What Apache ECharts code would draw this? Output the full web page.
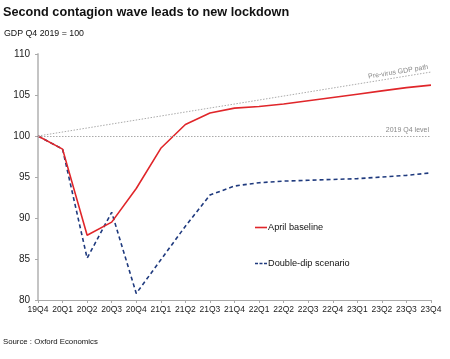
<!DOCTYPE html>
<html><head><meta charset="utf-8">
<script src="https://cdn.jsdelivr.net/npm/echarts@6/dist/echarts.min.js"></script>
<style>html,body{margin:0;padding:0;background:#fff}#c{width:450px;height:359px}</style>
</head><body><div id="c"></div>
<script>
const categories = ['19Q4','20Q1','20Q2','20Q3','20Q4','21Q1','21Q2','21Q3','21Q4','22Q1','22Q2','22Q3','22Q4','23Q1','23Q2','23Q3','23Q4'];
const aprilBaseline = [100, 98.4, 87.9, 89.5, 93.6, 98.5, 101.4, 102.8, 103.4, 103.6, 103.9, 104.3, 104.7, 105.1, 105.5, 105.9, 106.2];
const doubleDip = [100, 98.4, 85.1, 90.7, 80.8, 84.9, 89.0, 92.8, 93.9, 94.3, 94.5, 94.6, 94.7, 94.8, 95.0, 95.2, 95.5];
const preVirusStart = 100, preVirusEnd = 107.8;
const level2019 = 100;
const yTicks = [80, 85, 90, 95, 100, 105, 110];

const chart = echarts.init(document.getElementById('c'));
const font = 'Liberation Sans, Arial, sans-serif';
chart.setOption({
  animation: false,
  textStyle: { fontFamily: font },
  title: [
    { text: 'Second contagion wave leads to new lockdown', left: 3, top: 6, padding: 0,
      textStyle: { fontSize: 12.7, fontWeight: 'bold', color: '#111', fontFamily: font } },
    { text: 'GDP Q4 2019 = 100', left: 4, top: 29, padding: 0,
      textStyle: { fontSize: 8.8, fontWeight: 'normal', color: '#111', fontFamily: font } },
    { text: 'Source : Oxford Economics', left: 3, top: 338, padding: 0,
      textStyle: { fontSize: 7.8, fontWeight: 'normal', color: '#111', fontFamily: font } }
  ],
  grid: { left: 38, right: 19, top: 54, bottom: 59, containLabel: false },
  legend: {
    left: 250, top: 218, orient: 'vertical', itemGap: 27, itemWidth: 12, itemHeight: 8,
    textStyle: { fontSize: 9.2, color: '#111', padding: [0, 0, 0, -4] },
    data: [
      { name: 'April baseline', icon: 'path://M0,0 L12,0 L12,1.6 L0,1.6 Z' },
      { name: 'Double-dip scenario', icon: 'path://M0,0 L3,0 L3,1.6 L0,1.6 Z M4.5,0 L7.5,0 L7.5,1.6 L4.5,1.6 Z M9,0 L12,0 L12,1.6 L9,1.6 Z' }
    ]
  },
  xAxis: {
    type: 'category', data: categories, boundaryGap: false,
    axisLine: { lineStyle: { color: '#aaa', width: 1 } },
    axisTick: { show: true, length: 3, lineStyle: { color: '#aaa' } },
    axisLabel: { fontSize: 8.5, color: '#222', margin: 5, interval: 0 },
    splitLine: { show: false }
  },
  yAxis: {
    type: 'value', min: yTicks[0], max: yTicks[yTicks.length - 1], interval: 5,
    axisLine: { show: true, lineStyle: { color: '#c4c4c4', width: 2 } },
    axisTick: { show: true, length: 3, lineStyle: { color: '#aaa' } },
    axisLabel: { fontSize: 10, color: '#222', margin: 8 },
    splitLine: { show: false }
  },
  series: [
    {
      name: 'April baseline', type: 'line', data: aprilBaseline, symbol: 'none', z: 3,
      lineStyle: { color: '#e0262a', width: 1.6 }, itemStyle: { color: '#e0262a' },
      markLine: {
        silent: true, symbol: 'none', animation: false,
        data: [
          [
            { coord: [categories[0], preVirusStart], lineStyle: { color: '#aaa', type: [1.5, 1.5], width: 1 } },
            { coord: [categories[categories.length - 1], preVirusEnd],
              label: { show: true, position: 'insideEndTop', formatter: 'Pre-virus GDP path', fontSize: 7, color: '#888', distance: 2 } }
          ],
          [
            { coord: [categories[0], level2019], lineStyle: { color: '#aaa', type: [1.5, 1.5], width: 1 } },
            { coord: [categories[categories.length - 1], level2019],
              label: { show: true, position: 'insideEndTop', formatter: '2019 Q4 level', fontSize: 7, color: '#888', distance: 2 } }
          ]
        ]
      }
    },
    {
      name: 'Double-dip scenario', type: 'line', data: doubleDip, symbol: 'none', z: 2,
      lineStyle: { color: '#1f3a7e', width: 1.6, type: [4, 3] }, itemStyle: { color: '#1f3a7e' }
    }
  ]
});
</script></body></html>
